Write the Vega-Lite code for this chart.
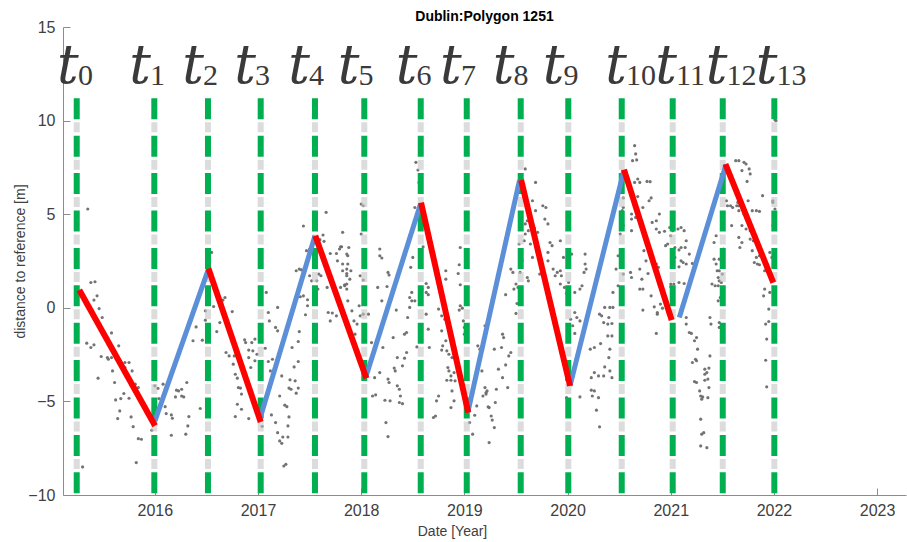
{
  "$schema": "https://vega.github.io/schema/vega-lite/v6.json",
  "width": 843,
  "height": 468,
  "autosize": {"type": "none"},
  "padding": {"left": 63, "top": 27, "right": 1, "bottom": 47},
  "background": "white",
  "config": {"view": {"stroke": null}, "font": "Liberation Sans"},
  "title": {"text": "Dublin:Polygon 1251", "font": "Liberation Sans", "fontSize": 14, "fontWeight": "bold", "color": "#000000", "anchor": "middle", "offset": 6, "dy": 11},
  "datasets": {
    "epochs": [
      {"epoch": "0", "date": 2015.243, "labelDate": 2015.158},
      {"epoch": "1", "date": 2015.995, "labelDate": 2015.856},
      {"epoch": "2", "date": 2016.515, "labelDate": 2016.370},
      {"epoch": "3", "date": 2017.026, "labelDate": 2016.874},
      {"epoch": "4", "date": 2017.552, "labelDate": 2017.397},
      {"epoch": "5", "date": 2018.030, "labelDate": 2017.877},
      {"epoch": "6", "date": 2018.577, "labelDate": 2018.439},
      {"epoch": "7", "date": 2019.023, "labelDate": 2018.870},
      {"epoch": "8", "date": 2019.546, "labelDate": 2019.379},
      {"epoch": "9", "date": 2020.007, "labelDate": 2019.864},
      {"epoch": "10", "date": 2020.525, "labelDate": 2020.470},
      {"epoch": "11", "date": 2021.019, "labelDate": 2020.955},
      {"epoch": "12", "date": 2021.504, "labelDate": 2021.444},
      {"epoch": "13", "date": 2022.004, "labelDate": 2021.928}
    ],
    "segments": [
      {"trend": "up", "date": 2016.0, "dist": -6.05, "date2": 2016.515, "dist2": 2.0},
      {"trend": "up", "date": 2017.02, "dist": -5.9, "date2": 2017.552, "dist2": 3.85},
      {"trend": "up", "date": 2018.045, "dist": -3.7, "date2": 2018.575, "dist2": 5.55},
      {"trend": "up", "date": 2019.035, "dist": -5.55, "date2": 2019.535, "dist2": 6.83},
      {"trend": "up", "date": 2020.024, "dist": -4.17, "date2": 2020.547, "dist2": 7.36},
      {"trend": "up", "date": 2021.083, "dist": -0.52, "date2": 2021.536, "dist2": 7.65},
      {"trend": "down", "date": 2015.268, "dist": 0.95, "date2": 2016.002, "dist2": -6.3},
      {"trend": "down", "date": 2016.52, "dist": 2.1, "date2": 2017.026, "dist2": -6.1},
      {"trend": "down", "date": 2017.555, "dist": 3.85, "date2": 2018.05, "dist2": -3.76},
      {"trend": "down", "date": 2018.58, "dist": 5.62, "date2": 2019.038, "dist2": -5.6},
      {"trend": "down", "date": 2019.55, "dist": 6.83, "date2": 2020.024, "dist2": -4.17},
      {"trend": "down", "date": 2020.547, "dist": 7.38, "date2": 2021.009, "dist2": -0.66},
      {"trend": "down", "date": 2021.53, "dist": 7.68, "date2": 2021.994, "dist2": 1.35}
    ],
    "points": [
      {"date": 2015.35, "dist": 5.28}, {"date": 2015.38, "dist": 1.35}, {"date": 2015.42, "dist": 1.39}, {"date": 2015.44, "dist": 0.64},
      {"date": 2015.41, "dist": 0.41}, {"date": 2015.46, "dist": -0.04}, {"date": 2015.49, "dist": -0.52}, {"date": 2015.58, "dist": -1.34},
      {"date": 2015.34, "dist": -1.89}, {"date": 2015.38, "dist": -2.12}, {"date": 2015.41, "dist": -1.98}, {"date": 2015.48, "dist": -2.6},
      {"date": 2015.54, "dist": -2.66}, {"date": 2015.55, "dist": -2.75}, {"date": 2015.58, "dist": -2.66}, {"date": 2015.65, "dist": -2.03},
      {"date": 2015.71, "dist": -2.92}, {"date": 2015.75, "dist": -2.92}, {"date": 2015.71, "dist": -3.19}, {"date": 2015.78, "dist": -3.37},
      {"date": 2015.59, "dist": -3.37}, {"date": 2015.45, "dist": -3.76}, {"date": 2015.61, "dist": -3.99}, {"date": 2015.81, "dist": -4.08},
      {"date": 2015.84, "dist": -4.26}, {"date": 2015.70, "dist": -4.58}, {"date": 2015.67, "dist": -4.85}, {"date": 2015.62, "dist": -4.92},
      {"date": 2015.75, "dist": -4.83}, {"date": 2015.66, "dist": -5.51}, {"date": 2015.64, "dist": -5.92}, {"date": 2015.77, "dist": -5.83},
      {"date": 2015.79, "dist": -6.35}, {"date": 2015.84, "dist": -6.99}, {"date": 2015.87, "dist": -7.02}, {"date": 2015.82, "dist": -8.27},
      {"date": 2015.30, "dist": -8.5}, {"date": 2016.0, "dist": -4.17}, {"date": 2016.03, "dist": -4.3}, {"date": 2016.08, "dist": -4.08},
      {"date": 2016.04, "dist": -4.85}, {"date": 2016.10, "dist": -5.28}, {"date": 2016.11, "dist": -5.65}, {"date": 2016.16, "dist": -5.72},
      {"date": 2016.17, "dist": -5.9}, {"date": 2016.21, "dist": -4.4}, {"date": 2016.23, "dist": -4.44}, {"date": 2016.26, "dist": -4.35},
      {"date": 2016.20, "dist": -4.76}, {"date": 2016.26, "dist": -4.71}, {"date": 2016.28, "dist": -4.76}, {"date": 2016.31, "dist": -3.99},
      {"date": 2016.33, "dist": -5.81}, {"date": 2016.32, "dist": -6.31}, {"date": 2016.30, "dist": -6.75}, {"date": 2016.16, "dist": -6.81},
      {"date": 2015.97, "dist": -6.54}, {"date": 2016.40, "dist": -1.02}, {"date": 2016.37, "dist": -1.76}, {"date": 2016.46, "dist": -1.73},
      {"date": 2016.44, "dist": -5.38}, {"date": 2016.49, "dist": -0.16}, {"date": 2016.49, "dist": -0.66},
      {"date": 2016.55, "dist": 2.96}, {"date": 2016.57, "dist": 0.07}, {"date": 2016.63, "dist": 0.16}, {"date": 2016.68, "dist": 0.55},
      {"date": 2016.66, "dist": 0.41}, {"date": 2016.75, "dist": -0.2}, {"date": 2016.63, "dist": -0.79}, {"date": 2016.60, "dist": -1.27},
      {"date": 2016.69, "dist": -2.39}, {"date": 2016.72, "dist": -2.57}, {"date": 2016.77, "dist": -2.57}, {"date": 2016.76, "dist": -3.01},
      {"date": 2016.78, "dist": -3.55}, {"date": 2016.80, "dist": -3.76}, {"date": 2016.81, "dist": -4.26}, {"date": 2016.83, "dist": -4.29},
      {"date": 2016.84, "dist": -4.61}, {"date": 2016.80, "dist": -5.15}, {"date": 2016.84, "dist": -5.42}, {"date": 2016.78, "dist": -5.81},
      {"date": 2016.91, "dist": -5.92}, {"date": 2016.87, "dist": -1.71}, {"date": 2016.88, "dist": -1.86}, {"date": 2016.94, "dist": -1.86},
      {"date": 2016.97, "dist": -1.67}, {"date": 2016.91, "dist": -2.26}, {"date": 2016.95, "dist": -2.3}, {"date": 2016.99, "dist": -2.48},
      {"date": 2016.97, "dist": -2.83}, {"date": 2016.93, "dist": -3.19}, {"date": 2016.91, "dist": -2.66}, {"date": 2016.86, "dist": -3.28},
      {"date": 2017.08, "dist": 0.82}, {"date": 2017.10, "dist": -0.25}, {"date": 2017.11, "dist": -0.7}, {"date": 2017.19, "dist": 0.02},
      {"date": 2017.17, "dist": -1.05}, {"date": 2017.19, "dist": -1.23}, {"date": 2017.07, "dist": -2.16}, {"date": 2017.14, "dist": -2.75},
      {"date": 2017.10, "dist": -2.87}, {"date": 2017.12, "dist": -3.37}, {"date": 2017.23, "dist": -3.64}, {"date": 2017.04, "dist": -6.33},
      {"date": 2017.13, "dist": -5.72}, {"date": 2017.17, "dist": -6.13}, {"date": 2017.21, "dist": -4.71}, {"date": 2017.26, "dist": -5.2},
      {"date": 2017.28, "dist": -5.28}, {"date": 2017.30, "dist": -5.83}, {"date": 2017.29, "dist": -6.31}, {"date": 2017.19, "dist": -6.67},
      {"date": 2017.24, "dist": -6.9}, {"date": 2017.29, "dist": -6.9}, {"date": 2017.21, "dist": -7.11}, {"date": 2017.23, "dist": -7.24},
      {"date": 2017.25, "dist": -8.45}, {"date": 2017.27, "dist": -8.36}, {"date": 2017.31, "dist": -3.85}, {"date": 2017.36, "dist": -3.9},
      {"date": 2017.32, "dist": -4.35}, {"date": 2017.30, "dist": -4.29}, {"date": 2017.37, "dist": -4.56}, {"date": 2017.39, "dist": -4.29},
      {"date": 2017.35, "dist": -3.16}, {"date": 2017.39, "dist": -2.87}, {"date": 2017.39, "dist": -1.8}, {"date": 2017.40, "dist": -1.27},
      {"date": 2017.33, "dist": -2.12}, {"date": 2017.46, "dist": -0.37}, {"date": 2017.41, "dist": 0.59}, {"date": 2017.44, "dist": 0.64},
      {"date": 2017.48, "dist": 0.43}, {"date": 2017.48, "dist": 0.11}, {"date": 2017.37, "dist": 1.98}, {"date": 2017.40, "dist": 2.07},
      {"date": 2017.42, "dist": 2.03}, {"date": 2017.50, "dist": 1.71}, {"date": 2017.52, "dist": 1.44}, {"date": 2017.57, "dist": 1.44},
      {"date": 2017.58, "dist": 1.0}, {"date": 2017.54, "dist": 0.55}, {"date": 2017.44, "dist": 4.37}, {"date": 2017.47, "dist": 3.05},
      {"date": 2017.50, "dist": 3.14}, {"date": 2017.60, "dist": 3.64}, {"date": 2017.63, "dist": 3.89}, {"date": 2017.64, "dist": 3.55},
      {"date": 2017.66, "dist": 5.1}, {"date": 2017.70, "dist": 2.9}, {"date": 2017.76, "dist": 2.9}, {"date": 2017.79, "dist": 3.14},
      {"date": 2017.81, "dist": 3.26}, {"date": 2017.82, "dist": 4.03}, {"date": 2017.86, "dist": 2.87}, {"date": 2017.77, "dist": 2.51},
      {"date": 2017.82, "dist": 1.98}, {"date": 2017.86, "dist": 1.83}, {"date": 2017.87, "dist": 2.34}, {"date": 2017.84, "dist": 1.18},
      {"date": 2017.86, "dist": 1.27}, {"date": 2017.67, "dist": 1.09}, {"date": 2017.59, "dist": 1.8}, {"date": 2017.61, "dist": 1.71},
      {"date": 2017.68, "dist": -0.25}, {"date": 2017.72, "dist": -0.28}, {"date": 2017.76, "dist": -0.43}, {"date": 2017.70, "dist": -0.7},
      {"date": 2017.87, "dist": 0.37}, {"date": 2017.80, "dist": 3.26}, {"date": 2017.88, "dist": 3.22}, {"date": 2017.87, "dist": 2.78},
      {"date": 2017.82, "dist": 2.34}, {"date": 2017.86, "dist": 2.07}, {"date": 2017.90, "dist": 1.98}, {"date": 2017.86, "dist": 1.71},
      {"date": 2017.89, "dist": 1.53}, {"date": 2017.80, "dist": 1.09}, {"date": 2017.86, "dist": 1.0}, {"date": 2017.84, "dist": 1.23},
      {"date": 2017.91, "dist": -0.16}, {"date": 2017.93, "dist": -0.7}, {"date": 2017.96, "dist": -0.87}, {"date": 2017.94, "dist": -1.41},
      {"date": 2017.99, "dist": -0.43}, {"date": 2018.02, "dist": -0.34}, {"date": 2018.07, "dist": -0.34}, {"date": 2017.98, "dist": 0.11},
      {"date": 2018.02, "dist": 1.48}, {"date": 2017.99, "dist": 1.71}, {"date": 2018.00, "dist": 3.94}, {"date": 2018.00, "dist": 5.54},
      {"date": 2018.02, "dist": 5.45}, {"date": 2018.10, "dist": -1.86}, {"date": 2018.13, "dist": -3.73}, {"date": 2018.18, "dist": -3.46},
      {"date": 2018.21, "dist": -2.12}, {"date": 2018.11, "dist": -4.71}, {"date": 2018.14, "dist": -4.65}, {"date": 2018.23, "dist": -4.94},
      {"date": 2018.28, "dist": -4.97}, {"date": 2018.24, "dist": -6.13}, {"date": 2018.26, "dist": -6.88}, {"date": 2018.26, "dist": -3.81},
      {"date": 2018.27, "dist": -3.99}, {"date": 2018.32, "dist": -3.22}, {"date": 2018.33, "dist": -3.37}, {"date": 2018.35, "dist": -4.17},
      {"date": 2018.37, "dist": -4.35}, {"date": 2018.38, "dist": -4.71}, {"date": 2018.37, "dist": -5.06}, {"date": 2018.40, "dist": -5.12},
      {"date": 2018.40, "dist": -3.1}, {"date": 2018.42, "dist": -2.69}, {"date": 2018.44, "dist": -2.39}, {"date": 2018.35, "dist": -2.66},
      {"date": 2018.31, "dist": -1.59}, {"date": 2018.34, "dist": -0.12}, {"date": 2018.18, "dist": 3.14}, {"date": 2018.18, "dist": 2.78},
      {"date": 2018.20, "dist": 2.66}, {"date": 2018.16, "dist": 1.09}, {"date": 2018.20, "dist": 0.37}, {"date": 2018.26, "dist": 1.89},
      {"date": 2018.27, "dist": 1.75}, {"date": 2018.25, "dist": 1.14}, {"date": 2018.42, "dist": -1.41}, {"date": 2018.44, "dist": -1.32},
      {"date": 2018.45, "dist": -0.52}, {"date": 2018.47, "dist": 0.02}, {"date": 2018.49, "dist": 0.37}, {"date": 2018.47, "dist": 0.55},
      {"date": 2018.49, "dist": 0.82}, {"date": 2018.52, "dist": 0.37}, {"date": 2018.48, "dist": 2.16}, {"date": 2018.50, "dist": 2.69},
      {"date": 2018.53, "dist": 7.77}, {"date": 2018.55, "dist": 7.36}, {"date": 2018.52, "dist": 5.36}, {"date": 2018.56, "dist": 6.7},
      {"date": 2018.60, "dist": 3.26}, {"date": 2018.63, "dist": 1.3}, {"date": 2018.65, "dist": 1.09}, {"date": 2018.63, "dist": 0.82},
      {"date": 2018.65, "dist": 0.7}, {"date": 2018.63, "dist": -0.34}, {"date": 2018.65, "dist": -1.14}, {"date": 2018.57, "dist": 0.37},
      {"date": 2018.59, "dist": 1.0}, {"date": 2018.66, "dist": -2.12}, {"date": 2018.54, "dist": -2.09}, {"date": 2018.70, "dist": -5.86},
      {"date": 2018.72, "dist": -5.78}, {"date": 2018.75, "dist": -4.71}, {"date": 2018.73, "dist": -4.97}, {"date": 2018.78, "dist": -1.23},
      {"date": 2018.78, "dist": -2.26}, {"date": 2018.79, "dist": -2.03}, {"date": 2018.82, "dist": -1.76}, {"date": 2018.83, "dist": -2.3},
      {"date": 2018.85, "dist": -2.48}, {"date": 2018.88, "dist": -2.66}, {"date": 2018.84, "dist": -3.19}, {"date": 2018.85, "dist": -3.37},
      {"date": 2018.83, "dist": -3.87}, {"date": 2018.87, "dist": -3.87}, {"date": 2018.87, "dist": -3.64}, {"date": 2018.90, "dist": -3.46},
      {"date": 2018.91, "dist": -3.9}, {"date": 2018.88, "dist": -4.44}, {"date": 2018.90, "dist": -4.97}, {"date": 2018.87, "dist": -5.33},
      {"date": 2018.78, "dist": -0.43}, {"date": 2018.75, "dist": -0.07}, {"date": 2018.81, "dist": -0.61}, {"date": 2018.82, "dist": 1.53},
      {"date": 2018.82, "dist": 1.98}, {"date": 2018.96, "dist": 3.22}, {"date": 2018.95, "dist": 2.3}, {"date": 2018.94, "dist": 1.83},
      {"date": 2018.96, "dist": 1.23}, {"date": 2018.96, "dist": 0.11}, {"date": 2018.98, "dist": -0.02}, {"date": 2018.95, "dist": -0.12},
      {"date": 2018.99, "dist": -0.7}, {"date": 2019.00, "dist": -1.05}, {"date": 2019.01, "dist": -1.27}, {"date": 2019.00, "dist": -1.41},
      {"date": 2019.04, "dist": -4.97}, {"date": 2019.05, "dist": -6.13}, {"date": 2019.08, "dist": -6.75}, {"date": 2019.10, "dist": -5.74},
      {"date": 2019.12, "dist": -5.24}, {"date": 2019.13, "dist": -2.03}, {"date": 2019.15, "dist": -2.21}, {"date": 2019.17, "dist": -3.37},
      {"date": 2019.20, "dist": -4.26}, {"date": 2019.21, "dist": -4.53}, {"date": 2019.18, "dist": -4.71}, {"date": 2019.22, "dist": -4.44},
      {"date": 2019.24, "dist": -5.33}, {"date": 2019.26, "dist": -5.78}, {"date": 2019.24, "dist": -7.2}, {"date": 2019.21, "dist": -4.61},
      {"date": 2019.23, "dist": -5.29}, {"date": 2019.27, "dist": -6.0}, {"date": 2019.29, "dist": -6.4}, {"date": 2019.30, "dist": -5.06},
      {"date": 2019.31, "dist": -4.35}, {"date": 2019.33, "dist": -3.28}, {"date": 2019.29, "dist": -2.21}, {"date": 2019.36, "dist": -2.12},
      {"date": 2019.37, "dist": -1.41}, {"date": 2019.38, "dist": -1.59}, {"date": 2019.40, "dist": -3.05}, {"date": 2019.43, "dist": -2.57},
      {"date": 2019.45, "dist": -2.39}, {"date": 2019.42, "dist": -4.26}, {"date": 2019.37, "dist": -3.73}, {"date": 2019.20, "dist": -0.96},
      {"date": 2019.40, "dist": 0.7}, {"date": 2019.45, "dist": 2.07}, {"date": 2019.47, "dist": 1.89}, {"date": 2019.50, "dist": 1.27},
      {"date": 2019.48, "dist": 1.0}, {"date": 2019.51, "dist": 0.23}, {"date": 2019.50, "dist": -0.3}, {"date": 2019.52, "dist": 1.09},
      {"date": 2019.54, "dist": 1.89}, {"date": 2019.56, "dist": 2.51}, {"date": 2019.53, "dist": 3.41}, {"date": 2019.58, "dist": 3.58},
      {"date": 2019.59, "dist": 3.94}, {"date": 2019.59, "dist": 4.48}, {"date": 2019.61, "dist": 4.65}, {"date": 2019.62, "dist": 4.12},
      {"date": 2019.59, "dist": 7.42}, {"date": 2019.69, "dist": 6.7}, {"date": 2019.66, "dist": 5.72}, {"date": 2019.69, "dist": 5.19},
      {"date": 2019.76, "dist": 5.45}, {"date": 2019.79, "dist": 5.36}, {"date": 2019.78, "dist": 4.74}, {"date": 2019.81, "dist": 4.48},
      {"date": 2019.68, "dist": 4.26}, {"date": 2019.71, "dist": 4.03}, {"date": 2019.64, "dist": 3.41}, {"date": 2019.66, "dist": 2.69},
      {"date": 2019.72, "dist": 2.69}, {"date": 2019.73, "dist": 1.8}, {"date": 2019.61, "dist": 1.62}, {"date": 2019.62, "dist": 1.44},
      {"date": 2019.83, "dist": 3.49}, {"date": 2019.93, "dist": 3.58}, {"date": 2019.85, "dist": 3.32}, {"date": 2019.81, "dist": 2.96},
      {"date": 2019.96, "dist": 2.69}, {"date": 2019.81, "dist": 2.51}, {"date": 2019.86, "dist": 2.07}, {"date": 2019.90, "dist": 1.89},
      {"date": 2019.93, "dist": 1.98}, {"date": 2019.88, "dist": 1.71}, {"date": 2019.94, "dist": 1.71}, {"date": 2019.93, "dist": 1.27},
      {"date": 2019.97, "dist": 1.09}, {"date": 2019.99, "dist": 0.77}, {"date": 2020.01, "dist": 1.35}, {"date": 2020.04, "dist": 2.87},
      {"date": 2020.07, "dist": 0.82}, {"date": 2020.14, "dist": 1.18}, {"date": 2020.16, "dist": 1.89}, {"date": 2020.17, "dist": 2.34},
      {"date": 2020.18, "dist": 2.07}, {"date": 2020.17, "dist": 2.87}, {"date": 2020.12, "dist": 1.0}, {"date": 2020.09, "dist": -0.52},
      {"date": 2020.07, "dist": -0.25}, {"date": 2020.03, "dist": -0.61}, {"date": 2020.05, "dist": -0.96}, {"date": 2020.12, "dist": -0.7},
      {"date": 2020.07, "dist": -1.37}, {"date": 2020.13, "dist": -1.76}, {"date": 2020.22, "dist": -2.21}, {"date": 2020.26, "dist": -2.12},
      {"date": 2020.32, "dist": -1.91}, {"date": 2020.31, "dist": -0.34}, {"date": 2020.33, "dist": -0.43}, {"date": 2020.36, "dist": 0.02},
      {"date": 2020.35, "dist": -0.79}, {"date": 2020.39, "dist": -0.87}, {"date": 2020.43, "dist": -0.84}, {"date": 2020.40, "dist": -0.52},
      {"date": 2020.43, "dist": -1.5}, {"date": 2020.39, "dist": -1.5}, {"date": 2020.41, "dist": -2.21}, {"date": 2020.40, "dist": -2.66},
      {"date": 2020.36, "dist": -3.16}, {"date": 2020.41, "dist": -3.37}, {"date": 2020.43, "dist": -3.73}, {"date": 2020.35, "dist": -3.64},
      {"date": 2020.30, "dist": -3.64}, {"date": 2020.26, "dist": -3.46}, {"date": 2020.23, "dist": -3.73}, {"date": 2020.26, "dist": -4.44},
      {"date": 2020.24, "dist": -4.71}, {"date": 2020.30, "dist": -4.8}, {"date": 2020.28, "dist": -5.47}, {"date": 2020.31, "dist": -6.36},
      {"date": 2019.99, "dist": -4.8}, {"date": 2020.12, "dist": -4.76}, {"date": 2020.23, "dist": -4.4}, {"date": 2020.49, "dist": 2.78},
      {"date": 2020.47, "dist": 2.07}, {"date": 2020.49, "dist": 1.18}, {"date": 2020.44, "dist": 0.82}, {"date": 2020.44, "dist": 0.02},
      {"date": 2020.41, "dist": 0.02}, {"date": 2020.51, "dist": 3.94}, {"date": 2020.53, "dist": 4.74}, {"date": 2020.53, "dist": 5.19},
      {"date": 2020.54, "dist": 4.39}, {"date": 2020.51, "dist": 6.52}, {"date": 2020.54, "dist": 1.8}, {"date": 2020.61, "dist": 1.89},
      {"date": 2020.62, "dist": 1.62}, {"date": 2020.62, "dist": 4.74}, {"date": 2020.62, "dist": 5.01}, {"date": 2020.64, "dist": 5.54},
      {"date": 2020.62, "dist": 4.12}, {"date": 2020.65, "dist": 8.66}, {"date": 2020.66, "dist": 8.22}, {"date": 2020.63, "dist": 7.86},
      {"date": 2020.67, "dist": 7.9}, {"date": 2020.77, "dist": 6.75}, {"date": 2020.80, "dist": 6.74}, {"date": 2020.68, "dist": 6.88},
      {"date": 2020.70, "dist": 6.7}, {"date": 2020.65, "dist": 6.7}, {"date": 2020.81, "dist": 5.87}, {"date": 2020.79, "dist": 5.72},
      {"date": 2020.68, "dist": 5.94}, {"date": 2020.54, "dist": 5.36}, {"date": 2020.54, "dist": 5.87}, {"date": 2020.66, "dist": 4.83},
      {"date": 2020.68, "dist": 4.92}, {"date": 2020.73, "dist": 5.36}, {"date": 2020.82, "dist": 4.56}, {"date": 2020.86, "dist": 4.65},
      {"date": 2020.89, "dist": 5.01}, {"date": 2020.86, "dist": 4.21}, {"date": 2020.89, "dist": 4.03}, {"date": 2020.94, "dist": 4.09},
      {"date": 2020.99, "dist": 4.29}, {"date": 2021.02, "dist": 4.39}, {"date": 2021.07, "dist": 4.21}, {"date": 2021.10, "dist": 4.29},
      {"date": 2021.13, "dist": 4.12}, {"date": 2021.00, "dist": 3.85}, {"date": 2021.02, "dist": 4.12}, {"date": 2020.97, "dist": 3.41},
      {"date": 2020.95, "dist": 3.32}, {"date": 2021.04, "dist": 3.22}, {"date": 2021.08, "dist": 3.09}, {"date": 2021.10, "dist": 3.22},
      {"date": 2021.15, "dist": 3.58}, {"date": 2021.14, "dist": 3.22}, {"date": 2021.04, "dist": 2.69}, {"date": 2021.10, "dist": 2.51},
      {"date": 2021.12, "dist": 2.42}, {"date": 2021.15, "dist": 2.34}, {"date": 2021.18, "dist": 2.87}, {"date": 2021.21, "dist": 2.37},
      {"date": 2021.08, "dist": 2.19}, {"date": 2020.74, "dist": 3.05}, {"date": 2020.76, "dist": 2.51}, {"date": 2020.70, "dist": 2.07},
      {"date": 2020.86, "dist": 2.34}, {"date": 2020.88, "dist": 2.16}, {"date": 2020.85, "dist": 1.98}, {"date": 2020.78, "dist": 1.83},
      {"date": 2020.88, "dist": 1.71}, {"date": 2020.89, "dist": 1.27}, {"date": 2020.72, "dist": 1.53}, {"date": 2020.70, "dist": 1.0},
      {"date": 2020.73, "dist": 1.0}, {"date": 2021.00, "dist": 1.27}, {"date": 2021.03, "dist": 1.27}, {"date": 2021.08, "dist": 1.35},
      {"date": 2021.13, "dist": 1.3}, {"date": 2021.00, "dist": 1.12}, {"date": 2020.81, "dist": 0.64}, {"date": 2020.84, "dist": 0.05},
      {"date": 2020.87, "dist": -0.25}, {"date": 2020.87, "dist": -0.34}, {"date": 2020.73, "dist": -0.12}, {"date": 2020.90, "dist": 0.2},
      {"date": 2020.92, "dist": -0.02}, {"date": 2020.86, "dist": -1.37}, {"date": 2021.15, "dist": -0.52}, {"date": 2021.15, "dist": -0.87},
      {"date": 2021.18, "dist": -1.32}, {"date": 2021.20, "dist": -1.37}, {"date": 2021.23, "dist": -1.76}, {"date": 2021.25, "dist": -1.59},
      {"date": 2021.26, "dist": -2.21}, {"date": 2021.21, "dist": -2.92}, {"date": 2021.24, "dist": -2.75}, {"date": 2021.25, "dist": -2.83},
      {"date": 2021.38, "dist": -2.57}, {"date": 2021.33, "dist": -3.28}, {"date": 2021.37, "dist": -3.22}, {"date": 2021.35, "dist": -3.46},
      {"date": 2021.33, "dist": -3.55}, {"date": 2021.36, "dist": -3.81}, {"date": 2021.33, "dist": -3.87}, {"date": 2021.23, "dist": -3.94},
      {"date": 2021.25, "dist": -3.99}, {"date": 2021.37, "dist": -4.26}, {"date": 2021.28, "dist": -4.44}, {"date": 2021.29, "dist": -4.71},
      {"date": 2021.31, "dist": -4.76}, {"date": 2021.30, "dist": -4.88}, {"date": 2021.36, "dist": -4.8}, {"date": 2021.29, "dist": -5.95},
      {"date": 2021.30, "dist": -6.75}, {"date": 2021.32, "dist": -6.67}, {"date": 2021.29, "dist": -7.38}, {"date": 2021.35, "dist": -7.47},
      {"date": 2021.38, "dist": -0.52}, {"date": 2021.39, "dist": -0.87}, {"date": 2021.47, "dist": -0.79}, {"date": 2021.47, "dist": -1.05},
      {"date": 2021.40, "dist": 1.27}, {"date": 2021.43, "dist": 1.18}, {"date": 2021.46, "dist": 1.18}, {"date": 2021.47, "dist": 1.44},
      {"date": 2021.49, "dist": 1.35}, {"date": 2021.50, "dist": 1.8}, {"date": 2021.45, "dist": 1.98}, {"date": 2021.47, "dist": 1.98},
      {"date": 2021.44, "dist": 2.34}, {"date": 2021.42, "dist": 2.6}, {"date": 2021.47, "dist": 2.6}, {"date": 2021.46, "dist": 1.62},
      {"date": 2021.44, "dist": 3.85}, {"date": 2021.42, "dist": 3.49}, {"date": 2021.46, "dist": 0.37}, {"date": 2021.50, "dist": 0.47},
      {"date": 2021.48, "dist": 0.55}, {"date": 2021.51, "dist": 3.14}, {"date": 2021.51, "dist": 2.69}, {"date": 2021.54, "dist": 5.72},
      {"date": 2021.55, "dist": 5.45}, {"date": 2021.58, "dist": 5.45}, {"date": 2021.60, "dist": 5.36}, {"date": 2021.64, "dist": 5.45},
      {"date": 2021.65, "dist": 5.63}, {"date": 2021.66, "dist": 5.45}, {"date": 2021.59, "dist": 4.39}, {"date": 2021.63, "dist": 7.86},
      {"date": 2021.66, "dist": 7.86}, {"date": 2021.71, "dist": 7.77}, {"date": 2021.73, "dist": 7.68}, {"date": 2021.76, "dist": 7.42},
      {"date": 2021.77, "dist": 7.15}, {"date": 2021.74, "dist": 6.75}, {"date": 2021.69, "dist": 7.33}, {"date": 2021.66, "dist": 5.19},
      {"date": 2021.71, "dist": 5.01}, {"date": 2021.73, "dist": 4.83}, {"date": 2021.75, "dist": 5.72}, {"date": 2021.79, "dist": 5.19},
      {"date": 2021.83, "dist": 5.19}, {"date": 2021.86, "dist": 5.15}, {"date": 2021.89, "dist": 5.99}, {"date": 2021.69, "dist": 4.39},
      {"date": 2021.73, "dist": 4.21}, {"date": 2021.77, "dist": 4.12}, {"date": 2021.66, "dist": 3.76}, {"date": 2021.69, "dist": 3.49},
      {"date": 2021.67, "dist": 3.22}, {"date": 2021.77, "dist": 3.67}, {"date": 2021.80, "dist": 3.58}, {"date": 2021.83, "dist": 3.49},
      {"date": 2021.84, "dist": 3.32}, {"date": 2021.79, "dist": 3.05}, {"date": 2021.83, "dist": 2.69}, {"date": 2021.86, "dist": 2.78},
      {"date": 2021.81, "dist": 2.42}, {"date": 2021.84, "dist": 2.34}, {"date": 2021.86, "dist": 2.3}, {"date": 2021.91, "dist": 1.98},
      {"date": 2021.99, "dist": 5.72}, {"date": 2021.99, "dist": 5.63}, {"date": 2022.01, "dist": 5.28}, {"date": 2021.99, "dist": 4.39},
      {"date": 2022.00, "dist": 4.29}, {"date": 2021.96, "dist": 2.96}, {"date": 2021.98, "dist": 2.69}, {"date": 2021.91, "dist": 1.0},
      {"date": 2021.96, "dist": 0.82}, {"date": 2022.01, "dist": 0.64}, {"date": 2021.90, "dist": 0.64}, {"date": 2021.95, "dist": -0.07},
      {"date": 2021.95, "dist": -0.73}, {"date": 2021.92, "dist": -0.87}, {"date": 2021.93, "dist": -1.67}, {"date": 2021.92, "dist": -2.8},
      {"date": 2021.93, "dist": -4.22}, {"date": 2022.01, "dist": 10.04}, {"date": 2022.02, "dist": 10.0}
    ]
  },
  "layer": [
    {
      "data": {"name": "points"},
      "mark": {"type": "circle", "size": 10, "color": "#6b6b6b", "opacity": 0.95},
      "encoding": {
        "x": {
          "field": "date", "type": "quantitative",
          "scale": {"domain": [2015.11, 2023.28], "nice": false, "zero": false},
          "axis": {
            "values": [2016, 2017, 2018, 2019, 2020, 2021, 2022, 2023], "format": "d",
            "title": "Date [Year]", "titleX": 389, "titleFontSize": 14, "titleFontWeight": "normal", "titleColor": "#404040", "titlePadding": 6,
            "labelFontSize": 16, "labelColor": "#404040", "labelPadding": 14, "labelFont": "Liberation Sans", "titleFont": "Liberation Sans",
            "domainColor": "#8c8c8c", "tickColor": "#8c8c8c", "tickSize": -7, "grid": false
          }
        },
        "y": {
          "field": "dist", "type": "quantitative",
          "scale": {"domain": [-10, 15], "nice": false, "zero": false},
          "axis": {
            "values": [-10, -5, 0, 5, 10, 15],
            "title": "distance to reference [m]", "titleFontSize": 14, "titleFontWeight": "normal", "titleColor": "#404040", "titlePadding": 0,
            "labelFontSize": 16, "labelColor": "#404040", "labelPadding": 15, "labelFont": "Liberation Sans", "titleFont": "Liberation Sans",
            "domainColor": "#8c8c8c", "tickColor": "#8c8c8c", "tickSize": -7, "grid": false
          }
        }
      }
    },
    {
      "data": {"name": "epochs"},
      "mark": {"type": "rule", "color": "#c4c4c4", "strokeWidth": 6, "opacity": 0.6, "strokeDash": [10, 27.4], "strokeDashOffset": 13.4, "strokeCap": "butt"},
      "encoding": {
        "x": {"field": "date", "type": "quantitative"},
        "y": {"datum": 11.19},
        "y2": {"datum": -10}
      }
    },
    {
      "data": {"name": "epochs"},
      "mark": {"type": "rule", "color": "#00b050", "strokeWidth": 6, "strokeDash": [21, 16.4], "strokeCap": "butt"},
      "encoding": {
        "x": {"field": "date", "type": "quantitative"},
        "y": {"datum": 11.19},
        "y2": {"datum": -10}
      }
    },
    {
      "data": {"name": "segments"},
      "transform": [{"filter": "datum.trend === 'up'"}],
      "mark": {"type": "rule", "color": "#5b8fd8", "strokeWidth": 5, "strokeCap": "butt"},
      "encoding": {
        "x": {"field": "date", "type": "quantitative"},
        "x2": {"field": "date2"},
        "y": {"field": "dist", "type": "quantitative"},
        "y2": {"field": "dist2"}
      }
    },
    {
      "data": {"name": "segments"},
      "transform": [{"filter": "datum.trend === 'down'"}],
      "mark": {"type": "rule", "color": "#ff0000", "strokeWidth": 6, "strokeCap": "butt"},
      "encoding": {
        "x": {"field": "date", "type": "quantitative"},
        "x2": {"field": "date2"},
        "y": {"field": "dist", "type": "quantitative"},
        "y2": {"field": "dist2"}
      }
    },
    {
      "data": {"name": "epochs"},
      "mark": {"type": "text", "text": "t", "font": "DejaVu Serif", "fontStyle": "italic", "fontSize": 54, "align": "center", "baseline": "alphabetic", "color": "#3a3a3a"},
      "encoding": {
        "x": {"field": "labelDate", "type": "quantitative"},
        "y": {"datum": 12.0}
      }
    },
    {
      "data": {"name": "epochs"},
      "mark": {"type": "text", "font": "Liberation Serif", "fontSize": 30, "align": "left", "baseline": "alphabetic", "dx": 10, "color": "#3a3a3a"},
      "encoding": {
        "x": {"field": "labelDate", "type": "quantitative"},
        "y": {"datum": 11.9},
        "text": {"field": "epoch"}
      }
    }
  ]
}
